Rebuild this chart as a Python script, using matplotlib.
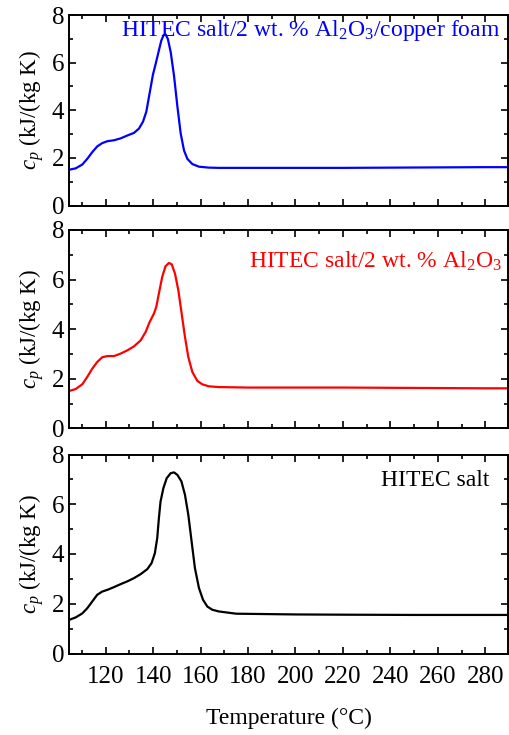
import numpy as np
import matplotlib
matplotlib.use('Agg')
import matplotlib.pyplot as plt
from matplotlib.ticker import MultipleLocator

matplotlib.rcParams['font.family'] = ['Liberation Serif', 'DejaVu Serif']
matplotlib.rcParams['mathtext.fontset'] = 'custom'
matplotlib.rcParams['mathtext.rm'] = 'Liberation Serif'
matplotlib.rcParams['mathtext.it'] = 'Liberation Serif:italic'

# 铜泡沫复合材料 (blue)
t_foam = [104.5, 107.3, 110.1, 112.2, 114.3, 116.4, 118.5, 120.7, 123.5, 126.3,
          129.1, 131.9, 134.0, 135.7, 137.1, 138.5, 139.9, 141.0, 142.2, 143.4,
          144.4, 145.2, 146.2, 147.4, 148.8, 150.2, 151.6, 153.0, 154.4, 156.5,
          159.3, 163.5, 167.7, 180, 200, 220, 240, 260, 280, 290]
cp_foam = [1.50, 1.56, 1.72, 1.96, 2.24, 2.48, 2.62, 2.70, 2.74, 2.82,
           2.94, 3.05, 3.23, 3.52, 3.94, 4.72, 5.50, 5.93, 6.43, 6.92,
           7.16, 7.19, 6.99, 6.43, 5.43, 4.16, 3.02, 2.31, 1.96, 1.74,
           1.63, 1.59, 1.58, 1.58, 1.58, 1.58, 1.59, 1.60, 1.61, 1.61]

# 纳米颗粒 (red)
t_nano = [104.5, 107.3, 110.1, 112.2, 114.3, 116.4, 118.5, 120.7, 123.5, 126.3,
          129.1, 131.9, 134.7, 136.8, 138.5, 140.3, 141.3, 142.4, 143.8, 145.2,
          146.6, 147.8, 149.2, 150.6, 152.0, 153.4, 154.8, 156.5, 158.6, 160.7,
          163.5, 167.7, 180, 200, 220, 240, 260, 280, 290]
cp_nano = [1.51, 1.59, 1.78, 2.08, 2.41, 2.68, 2.87, 2.92, 2.92, 3.02,
           3.15, 3.31, 3.55, 3.89, 4.29, 4.63, 4.90, 5.44, 6.11, 6.54,
           6.67, 6.62, 6.24, 5.57, 4.63, 3.69, 2.88, 2.28, 1.92, 1.78,
           1.70, 1.67, 1.65, 1.65, 1.65, 1.64, 1.63, 1.62, 1.62]

# 纯盐 (black)
t_salt = [104.5, 107.3, 110.1, 112.2, 114.3, 116.4, 118.5, 120.7, 123.5, 126.3,
          129.1, 131.9, 134.7, 137.5, 139.3, 140.7, 141.7, 142.4, 143.1, 144.3,
          145.7, 147.4, 148.8, 150.2, 151.9, 153.4, 154.8, 156.2, 157.6, 159.3,
          161.0, 162.8, 164.9, 167.7, 175, 200, 220, 250, 270, 290]
cp_salt = [1.35, 1.45, 1.61, 1.82, 2.09, 2.36, 2.49, 2.56, 2.67, 2.79,
           2.90, 3.03, 3.19, 3.39, 3.63, 4.03, 4.64, 5.44, 6.11, 6.65,
           7.05, 7.25, 7.28, 7.18, 6.92, 6.38, 5.58, 4.50, 3.43, 2.63,
           2.16, 1.89, 1.76, 1.69, 1.60, 1.57, 1.56, 1.55, 1.55, 1.55]

labels = ['HITEC salt/2 wt. % Al$_2$O$_3$/copper foam',
          'HITEC salt/2 wt. % Al$_2$O$_3$',
          'HITEC salt']
colors = ['#0000ff', '#ff0000', '#000000']
series = [(t_foam, cp_foam), (t_nano, cp_nano), (t_salt, cp_salt)]
label_y = [0.92, 0.84, 0.87]
label_x = [0.982, 0.987, 0.957]

W, H = 509, 735
fig = plt.figure(figsize=(W / 100, H / 100), dpi=100)

# 各子图像素位置 (top, bottom)
rows = [(15, 205.5), (230, 428.5), (454.5, 653.5)]
left, right = 69, 508

for i, ((x, y), lab, c) in enumerate(zip(series, labels, colors)):
    top, bot = rows[i]
    ax = fig.add_axes([left / W, 1 - bot / H, (right - left) / W, (bot - top) / H])
    ax.plot(x, y, color=c, lw=1.6, solid_joinstyle='round')
    ax.set_xlim(104.5, 289.6)
    ax.set_ylim(0, 8)
    ax.xaxis.set_major_locator(MultipleLocator(20))
    ax.xaxis.set_minor_locator(MultipleLocator(10))
    ax.yaxis.set_major_locator(MultipleLocator(2))
    ax.yaxis.set_minor_locator(MultipleLocator(1))
    ax.tick_params(which='both', direction='in', top=True, right=True,
                   labelsize=18, width=1.2)
    ax.tick_params(which='major', length=5)
    ax.tick_params(which='minor', length=3)
    ax.tick_params(axis='x', pad=9)
    for s in ax.spines.values():
        s.set_linewidth(1.4)
    if i < 2:
        ax.tick_params(labelbottom=False)
    ax.set_ylabel('$c_p$ (kJ/(kg K)', fontsize=16.5, labelpad=4)
    ax.text(label_x[i], label_y[i], lab, color=c, fontsize=17, ha='right',
            va='center', transform=ax.transAxes)
    if i == 2:
        ax.set_xlabel('Temperature (°C)', fontsize=17, labelpad=14)

plt.savefig('out.png', dpi=100)
